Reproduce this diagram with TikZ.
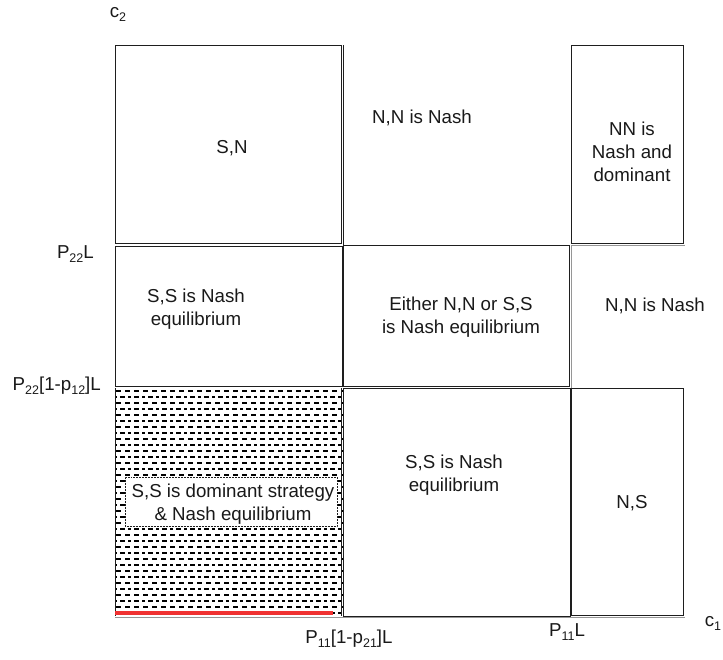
\documentclass[tikz,border=0pt]{standalone}
\usepackage{fontspec}
\setmainfont{Liberation Sans}
\newcommand{\sbs}[1]{\raisebox{-0.4ex}{\fontsize{12.5}{12.5}\selectfont #1}}
\definecolor{edge}{RGB}{30,30,30}
\definecolor{greyedge}{RGB}{150,150,150}
\definecolor{redline}{RGB}{240,50,50}
\begin{document}
\begin{tikzpicture}[x=1pt,y=-1pt,
  box/.style={draw=edge, line width=0.9pt},
  greybox/.style={draw=greyedge, line width=0.9pt},
  lbl/.style={font=\fontsize{18.7}{23}\selectfont, align=center, inner sep=0pt, text=black!90},
  longrow/.style={line width=2.3pt, dash pattern=on 5pt off 4pt, draw=black},
  shortrow/.style={line width=2pt, dash pattern=on 3pt off 3pt on 4.5pt off 3.5pt, dash phase=2pt, draw=black}]
\useasboundingbox (0,0) rectangle (723,659);
% hatched region
\begin{scope}
  \clip (115,388) rectangle (343,617);
  \foreach \i in {0,...,18} {
    \draw[longrow] (116,{391+12*\i}) -- (344,{391+12*\i});
    \draw[shortrow] (116,{397+12*\i}) -- (344,{397+12*\i});
  }
\end{scope}
\draw[box, line width=0.6pt] (115,388) -- (115,616);
\draw[box, line width=0.6pt] (341,388) -- (341,616);
% red base
\draw[redline, line width=4pt] (115,613) -- (333,613);
% axis line
\draw[greybox] (115,617) -- (685,617);
% boxes
\draw[box] (115,45) rectangle (341,243);
\draw[box] (343,45) -- (343,245);
\draw[box] (571,45) rectangle (683,243);
\draw[box] (115,246) rectangle (342,386);
\draw[box] (343,245) rectangle (569,386);
\draw[greybox] (571,388) -- (571,245) -- (685,245);
\draw[box] (343,388) rectangle (570,616);
\draw[box] (571,388) rectangle (683,615);
% white label box in hatched region
\node[draw=edge, densely dotted, line width=0.5pt, fill=white, minimum width=212pt, minimum height=49pt, inner sep=0pt] (wbox) at (231,501.5) {};
% texts
\node[lbl] (sn) at (232,148) {S,N};
\node[lbl] (nntop) at (422,118) {N,N is Nash};
\node[lbl] (nndom) at (632,152) {NN is\\Nash and\\dominant};
\node[lbl] (ssl) at (196,309) {S,S is Nash\\equilibrium};
\node[lbl] (either) at (461,317) {Either N,N or S,S\\is Nash equilibrium};
\node[lbl] (nnr) at (655,306) {N,N is Nash};
\node[lbl] (ssdom) at (233,504) {S,S is dominant strategy\\\& Nash equilibrium};
\node[lbl] (ssb) at (454,475) {S,S is Nash\\equilibrium};
\node[lbl] (ns) at (632,503) {N,S};
% axis labels
\node[lbl] (c2) at (118,14) {c\sbs{2}};
\node[lbl] (c1) at (713,623) {c\sbs{1}};
\node[lbl, anchor=east] (p22l) at (94,254) {P\sbs{22}L};
\node[lbl, anchor=east] (p22p) at (101,386) {P\sbs{22}[1-p\sbs{12}]L};
\node[lbl] (p11p) at (349,639) {P\sbs{11}[1-p\sbs{21}]L};
\node[lbl] (p11l) at (567,632) {P\sbs{11}L};
\end{tikzpicture}
\end{document}
